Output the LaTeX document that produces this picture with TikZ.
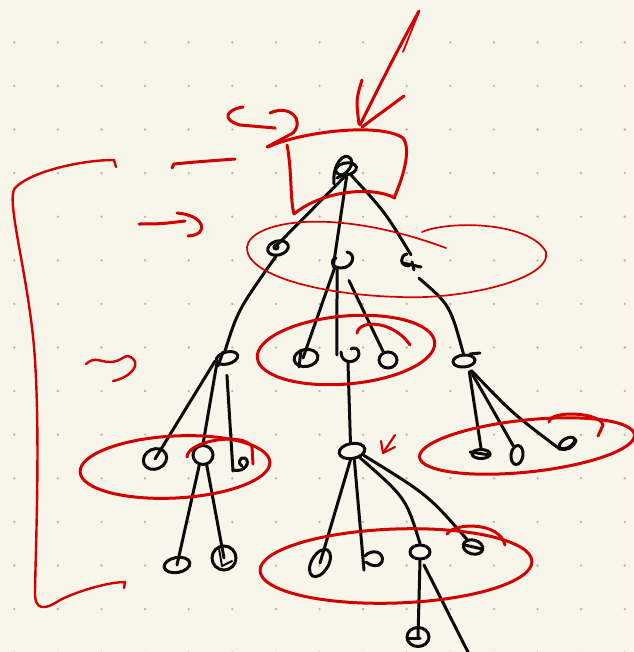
\documentclass[tikz,border=0pt]{standalone}
\usetikzlibrary{shapes.geometric}
\definecolor{paper}{HTML}{F8F6EA}
\definecolor{dotc}{HTML}{B8B6AC}
\definecolor{inkc}{HTML}{0A0A0A}
\definecolor{redc}{HTML}{D20000}
\begin{document}
\begin{tikzpicture}[x=1pt,y=-1pt,
  ink/.style={draw=inkc, line width=3pt, line cap=round, line join=round},
  conn/.style={ink},
  nd/.style={ellipse, draw=inkc, line width=3pt, inner sep=0pt},
  ghost/.style={ellipse, inner sep=0pt},
  rd/.style={draw=redc, line width=3pt, line cap=round, line join=round},
  rdthin/.style={rd, line width=1.7pt}]
% paper and dot grid
\fill[paper] (0,0) rectangle (633,652);
\useasboundingbox (0,0) rectangle (633,652);
\begin{scope}
\clip (0,0) rectangle (633,652);
\foreach \i in {0,...,14} \foreach \j in {0,...,15}
  \fill[dotc] ({14.3+43.6*\i},{-1.3+43.6*\j}) circle[radius=1.3pt];
\end{scope}

% ---------- nodes ----------
\node[nd, minimum width=21pt, minimum height=12pt, rotate=10] (root) at (346,169) {};
\draw[ink] (334,184) .. controls (332,165) and (344,150) .. (351,159) .. controls (355,168) and (342,176) .. (337,178);

\node[nd, minimum width=21pt, minimum height=14pt, rotate=15] (n1a) at (278,248) {};
\draw[ink, line width=2pt] (276,247) circle[radius=2.5pt];
\node[ghost, minimum width=24pt, minimum height=16pt] (n1b) at (340,260) {};
\draw[ink] (347,252) .. controls (357,254) and (353,268) .. (341,268) .. controls (331,268) and (330,259) .. (336,258);
\node[ghost, minimum width=20pt, minimum height=14pt] (n1c) at (411,262) {};
\draw[ink] (407,254) .. controls (400,255) and (399,266) .. (409,266);
\draw[ink] (403,263) -- (421,267);
\draw[ink] (412,262) -- (414,270);

\node[nd, minimum width=22pt, minimum height=12pt, rotate=15] (n2a) at (227,358) {};
\draw[ink] (223,352) -- (218,366);
\node[nd, minimum width=24pt, minimum height=17pt, rotate=10] (n2b) at (306,358) {};
\draw[ink] (301,350) -- (299,367);
\node[ghost, minimum width=22pt, minimum height=16pt] (n2c) at (348,355) {};
\draw[ink] (341,352) .. controls (341,365) and (358,364) .. (359,354) .. controls (359,348) and (354,347) .. (351,349);
\node[nd, minimum width=18pt, minimum height=16pt] (n2d) at (388,360) {};
\node[nd, minimum width=22pt, minimum height=12pt, rotate=5] (n2e) at (464,361) {};
\draw[ink] (470,354) -- (480,353);

\node[nd, minimum width=24pt, minimum height=20pt, rotate=25] (n3a) at (155,459) {};
\node[nd, minimum width=20pt, minimum height=19pt] (n3b) at (203,455) {};
\node[ghost, minimum width=20pt, minimum height=16pt] (n3c) at (241,463) {};
\draw[ink] (233,470) .. controls (245,473) and (251,462) .. (245,458) .. controls (240,456) and (237,464) .. (242,466);
\node[nd, minimum width=26pt, minimum height=15pt, rotate=10] (n3d) at (352,451) {};
\node[nd, minimum width=18pt, minimum height=9pt] (n3e) at (481,454) {};
\draw[ink] (470,452) -- (490,455);
\node[nd, minimum width=12pt, minimum height=19pt, rotate=-8] (n3f) at (517,455) {};
\node[nd, minimum width=17pt, minimum height=9pt, rotate=30] (n3g) at (567,443) {};
\draw[ink] (559,449) .. controls (566,451) and (574,448) .. (576,440);

\node[nd, minimum width=26pt, minimum height=15pt, rotate=10] (n4a) at (177,565) {};
\node[nd, minimum width=24pt, minimum height=24pt] (n4b) at (224,558) {};
\draw[ink, line width=2pt] (219,549) -- (222,566) -- (232,561);
\node[nd, minimum width=30pt, minimum height=17pt, rotate=60] (n4c) at (320,563) {};
\node[ghost, minimum width=22pt, minimum height=18pt] (n4d) at (372,561) {};
\draw[ink] (365,556) .. controls (372,548) and (385,552) .. (382,562) .. controls (379,568) and (370,566) .. (366,562);
\node[nd, minimum width=20pt, minimum height=14pt] (n4e) at (420,552) {};
\node[nd, minimum width=20pt, minimum height=14pt, rotate=-15] (n4f) at (473,547) {};
\draw[ink] (465,545) -- (482,549);
\node[nd, minimum width=22pt, minimum height=19pt] (n5) at (418,637) {};
\draw[ink] (408,638) -- (420,638);
\coordinate (offB) at (471,658);

% ---------- connectors ----------
\draw[conn] (root.250) -- ([xshift=-4pt]n1a.center);
\draw[conn] (root.265) -- (n1b.225);
\draw[conn] (root.300) .. controls (385,212) .. (n1c.north);
\draw[conn] (n1a.240) .. controls (238,310) .. (n2a.north);
\draw[conn] (n1b.235) -- ([xshift=-3pt]n2b.center);
\draw[conn] (n1b.250) -- (n2c.west);
\draw[conn, shorten <=14pt] (n1b.290) -- (n2d.120);
\draw[conn] ([shift={(8pt,-9pt)}]n1c.south) .. controls (450,305) .. (n2e.north);
\draw[conn] (n2c.south) -- (n3d.north);
\draw[conn] (n2a.west) -- (n3a.center);
\draw[conn] (n2a.195) -- (n3b.north);
\draw[conn] ([shift={(-2pt,-10pt)}]n2a.south) -- ([xshift=-8pt]n3c.south);
\draw[conn] (n3b.250) -- (n4a.center);
\draw[conn] (n3b.290) -- (n4b.center);
\draw[conn, shorten <=4pt] (n2e.300) -- (n3e.north);
\draw[conn, shorten <=4pt] (n2e.300) -- (n3f.120);
\draw[conn, shorten <=4pt] (n2e.300) .. controls (512,413) .. (n3g.west);
\draw[conn] (n3d.250) -- (n4c.center);
\draw[conn] (n3d.275) -- ([xshift=-8pt]n4d.south);
\draw[conn] (n3d.310) .. controls (406,498) .. (n4e.north);
\draw[conn] (n3d.330) .. controls (428,495) .. (n4f.north west);
\draw[conn] (n4e.south) -- (n5.center);
\draw[conn] ([shift={(4pt,-13pt)}]n4e.center) -- (offB);

% ---------- red annotations ----------
% big arrow
\draw[rd] (419,11) .. controls (395,55) .. (360,125);
\draw[rdthin] (419,12) -- (403,52);
\draw[rd] (362,80) .. controls (356,100) .. (359,124);
\draw[rd] (404,96) -- (362,127);
% box around root
\draw[rd] (268,147) .. controls (300,132) and (380,122) .. (403,138) .. controls (412,150) and (402,180) .. (394,198);
\draw[rd] (287,145) .. controls (292,170) and (290,200) .. (294,214);
\draw[rd] (294,214) .. controls (320,192) and (370,185) .. (395,198);
% curl arrow left of box
\draw[rd] (243,107) .. controls (225,110) and (222,120) .. (240,125) -- (275,128);
\draw[rd] (270,113) .. controls (290,104) and (305,120) .. (293,133) -- (267,147);
% bracket
\draw[rd, line width=2.4pt] (116,167) -- (114,160) .. controls (80,160) and (30,172) .. (15,188) .. controls (5,200) and (30,280) .. (35,360) .. controls (40,440) and (36,540) .. (35,590) .. controls (34,612) and (45,610) .. (60,600) .. controls (80,590) and (110,582) .. (125,582) -- (124,588);
% dash
\draw[rd] (172,168) -- (174,164) .. controls (195,162) .. (235,159);
% small arrow
\draw[rd] (139,224) .. controls (160,224) .. (185,221);
\draw[rd] (177,213) .. controls (205,215) and (210,235) .. (188,236);
% tilde
\draw[rd, line width=2.4pt] (86,364) .. controls (95,356) and (100,362) .. (110,362) .. controls (120,362) and (125,355) .. (128,356) .. controls (145,362) and (130,378) .. (113,381);
% level-1 thin loop
\draw[rdthin] (422,232) .. controls (450,220) and (530,222) .. (546,252) .. controls (552,280) and (460,300) .. (400,297) .. controls (320,295) and (245,275) .. (247,247) .. controls (250,222) and (330,205) .. (446,248);
% level-2 ellipse
\draw[rd, rotate around={5:(346,350)}] (346,350) ellipse [x radius=89, y radius=34];
\draw[rd] (357,333) .. controls (360,318) and (395,322) .. (410,345);
% left level-3 ellipse
\draw[rd, rotate around={3:(175,467)}] (175,467) ellipse [x radius=95, y radius=31];
\draw[rd] (187,457) .. controls (188,440) and (245,432) .. (252,447) -- (253,464);
% right level-3 ellipse
\draw[rd, rotate around={6:(527,446)}] (527,446) ellipse [x radius=108, y radius=26];
\draw[rd] (549,422) .. controls (550,410) and (600,412) .. (603,425) -- (598,436);
% bottom ellipse
\draw[rd, rotate around={2:(396,566)}] (396,566) ellipse [x radius=136, y radius=37];
\draw[rd] (447,534) .. controls (455,522) and (500,522) .. (505,545);
% small red arrow
\draw[rd, line width=2.2pt] (395,435) -- (383,453);
\draw[rd, line width=2.2pt] (381,441) -- (383,453) -- (395,447);
\end{tikzpicture}
\end{document}
